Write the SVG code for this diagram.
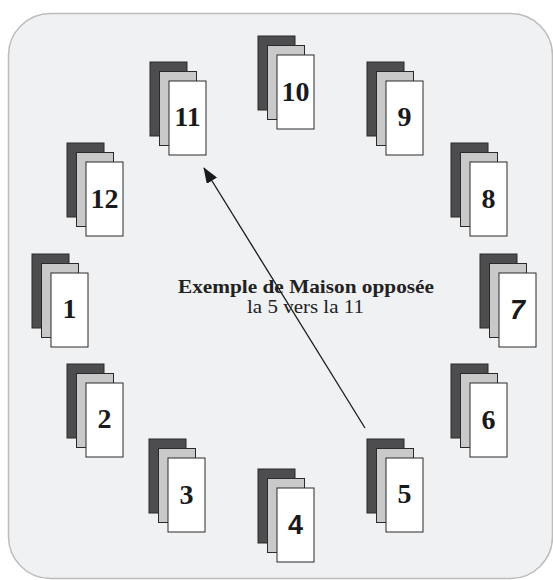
<svg xmlns="http://www.w3.org/2000/svg" xmlns:xlink="http://www.w3.org/1999/xlink" width="553" height="580" viewBox="0 0 553 580">
<style>
.d{fill:#4d4d4f;stroke:#2a2a2a;stroke-width:1}
.g{fill:#c9c9c9;stroke:#2a2a2a;stroke-width:1}
.w{fill:#ffffff;stroke:#2a2a2a;stroke-width:1}
.n{font-family:"Liberation Serif","Times New Roman",serif;font-weight:bold;font-size:28px;fill:#1a1a1a;text-anchor:middle}
.t1{font-family:"Liberation Serif","Times New Roman",serif;font-weight:bold;font-size:19.5px;fill:#222}
.t2{font-family:"Liberation Serif","Times New Roman",serif;font-size:19.5px;fill:#222}
</style>
<defs>
<g id="stack">
<rect class="d" x="0" y="0" width="37" height="74"/>
<rect class="g" x="9.5" y="9.5" width="37" height="74"/>
<rect class="w" x="19" y="19" width="37" height="74"/>
</g>
<marker id="ah" markerWidth="16" markerHeight="12" refX="15" refY="6" orient="auto" markerUnits="userSpaceOnUse">
<path d="M0,0 L16,6 L0,12 Z" fill="#1a1a1a"/>
</marker>
</defs>
<rect x="8.5" y="13.5" width="544" height="565" rx="42" fill="#f0f1f3" stroke="#bdbdbd" stroke-width="1.5"/>
<g id="n10" transform="translate(258,36)"><use xlink:href="#stack"/><text class="n" x="37.5" y="65">10</text></g>
<g id="n11" transform="translate(150,62)"><use xlink:href="#stack"/><text class="n" x="37.5" y="64">11</text></g>
<g id="n9" transform="translate(367,62)"><use xlink:href="#stack"/><text class="n" x="37.5" y="64">9</text></g>
<g id="n8" transform="translate(451,143)"><use xlink:href="#stack"/><text class="n" x="37.5" y="65">8</text></g>
<g id="n7" transform="translate(480,254)"><use xlink:href="#stack"/><text class="n" x="37.5" y="65" style="font-family:'Liberation Sans',Arial,sans-serif;font-style:italic;font-size:27px">7</text></g>
<g id="n6" transform="translate(451,364)"><use xlink:href="#stack"/><text class="n" x="37.5" y="65">6</text></g>
<g id="n5" transform="translate(367,439)"><use xlink:href="#stack"/><text class="n" x="37.5" y="64">5</text></g>
<g id="n4" transform="translate(258,469)"><use xlink:href="#stack"/><text class="n" x="37.5" y="65" style="font-family:'Liberation Sans',Arial,sans-serif;font-size:27px">4</text></g>
<g id="n3" transform="translate(149,439)"><use xlink:href="#stack"/><text class="n" x="37.5" y="65">3</text></g>
<g id="n2" transform="translate(67,364)"><use xlink:href="#stack"/><text class="n" x="37.5" y="64">2</text></g>
<g id="n1" transform="translate(32,254)"><use xlink:href="#stack"/><text class="n" x="37.5" y="64">1</text></g>
<g id="n12" transform="translate(67,143)"><use xlink:href="#stack"/><text class="n" x="37.5" y="65">12</text></g>
<g id="connectors">
<line x1="365" y1="428" x2="204" y2="168" stroke="#1a1a1a" stroke-width="1.3" marker-end="url(#ah)"/>
</g>
<g id="label">
<text class="t1" x="178" y="293" textLength="256" lengthAdjust="spacingAndGlyphs">Exemple de Maison opposée</text>
<text class="t2" x="247" y="313" textLength="117" lengthAdjust="spacingAndGlyphs">la 5 vers la 11</text>
</g>
</svg>
